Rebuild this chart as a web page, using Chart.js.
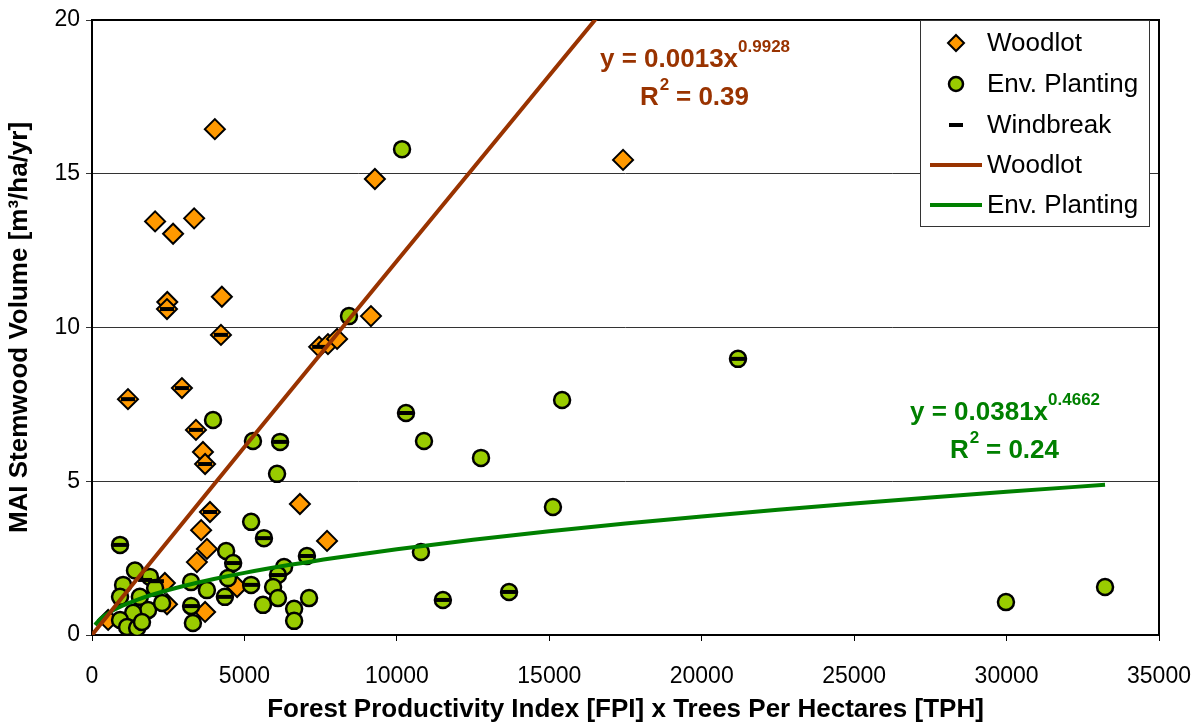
<!DOCTYPE html>
<html>
<head>
<meta charset="utf-8">
<script src="https://cdn.jsdelivr.net/npm/chart.js@4/dist/chart.umd.min.js"></script>
<style>
    html, body { margin: 0; padding: 0; background: #fff; }
    #wrap { width: 1193px; height: 727px; }
</style>
</head>
<body>
<div id="wrap"><canvas id="chart" width="1193" height="727"></canvas></div>
<script>
// Woodlot points
const woodlotX = [4030, 2070, 3350, 2660, 2470, 2460, 4260, 4230, 1180, 2950, 3410, 3640, 3710, 3870,
    7450, 7740, 8040, 9150, 9280, 17420, 6820, 7710, 3580, 3770, 3440, 2460, 3710, 2390, 4760, 530, 1410];
const woodlotY = [16.45, 13.45, 13.55, 13.05, 10.83, 10.6, 11.0, 9.76, 7.67, 8.03, 6.67, 5.95, 5.56, 4.0,
    9.37, 9.46, 9.63, 10.37, 14.83, 15.45, 4.26, 3.06, 3.41, 2.80, 2.37, 1.0, 0.75, 1.69, 1.56, 0.49, 0.2];

// Env. Planting points
const envX = [10170, 21190, 15420, 10300, 10890, 12760, 15120, 10790, 11510, 13680, 29980, 33230,
    3970, 5280, 6170, 6070, 8430, 7050, 6300, 6100, 5940, 6100, 7120, 6630, 6630, 5640,
    920, 5220, 4400, 4630, 3250, 3770, 4460, 5220, 4360, 3250, 3310, 5610,
    1410, 1020, 1900, 2070, 920, 1570, 1840, 1350, 920, 1150, 1480, 1640, 2300];
const envY = [15.8, 8.98, 7.64, 7.22, 6.31, 5.76, 4.16, 2.70, 1.14, 1.40, 1.07, 1.56,
    6.99, 6.31, 6.28, 5.24, 10.37, 2.57, 2.21, 1.95, 1.56, 1.2, 1.20, 0.85, 0.46, 3.15,
    2.93, 3.68, 2.73, 2.34, 1.72, 1.46, 1.85, 1.63, 1.24, 0.94, 0.39, 0.98,
    2.10, 1.63, 1.89, 1.53, 1.24, 1.24, 0.81, 0.72, 0.49, 0.26, 0.23, 0.42, 1.04];

// Windbreak points
const windX = [1180, 2950, 3410, 3710, 3870, 4230, 2460, 7450,
    21190, 10300, 11510, 13680, 6170, 920, 5640, 4630, 5220, 4360, 3250, 6100, 7050, 1740, 2130];
const windY = [7.67, 8.03, 6.67, 5.56, 4.0, 9.76, 10.6, 9.37,
    8.98, 7.22, 1.14, 1.40, 6.28, 2.93, 3.15, 2.34, 1.63, 1.24, 0.94, 1.95, 2.57, 1.79, 1.75];

// power trendlines y = a * x^b (coefficients as printed on the chart)
const woodlotFit = { a: 0.0013, b: 0.9928, r2: '0.39' };
const envFit = { a: 0.0381, b: 0.4662, r2: '0.24' };
const woodlotFitX = [0, 1000, 5000, 10000, 15000, 17000];
const envFitX = [100, 300, 600, 1000, 1500, 2000, 3000, 4000, 5000, 6500, 8000, 10000, 12500,
    15000, 17500, 20000, 22500, 25000, 27500, 30000, 33230];

const xTicks = [0, 5000, 10000, 15000, 20000, 25000, 30000, 35000];
const yTicks = [0, 5, 10, 15, 20];

const FONT = "'Liberation Sans', Arial, sans-serif";

function toPoints(xs, ys) {
    return xs.map((x, i) => ({ x: x, y: ys[i] }));
}

function fitPoints(xs, fit) {
    return xs.map(x => ({ x: x, y: fit.a * Math.pow(x, fit.b) }));
}

// equation text with superscripts
function drawEquation(ctx, x, y, fit, color) {
    ctx.save();
    ctx.fillStyle = color;
    ctx.textBaseline = 'alphabetic';
    ctx.textAlign = 'left';
    ctx.font = `bold 26px ${FONT}`;
    const main = `y = ${fit.a.toFixed(4)}x`;
    ctx.fillText(main, x, y);
    const w = ctx.measureText(main).width;
    ctx.font = `bold 17px ${FONT}`;
    ctx.fillText(fit.b.toFixed(4), x + w, y - 15);

    // R² line
    ctx.font = `bold 26px ${FONT}`;
    const rx = x + 40;
    ctx.fillText('R', rx, y + 38);
    const rw = ctx.measureText('R').width;
    ctx.font = `bold 17px ${FONT}`;
    ctx.fillText('2', rx + rw + 1, y + 23);
    ctx.font = `bold 26px ${FONT}`;
    ctx.fillText(` = ${fit.r2}`, rx + rw + 10, y + 38);
    ctx.restore();
}

const decorPlugin = {
    id: 'decor',
    beforeDatasetsDraw(chart) {
        const { ctx, chartArea: a } = chart;
        ctx.save();
        ctx.strokeStyle = '#000';
        ctx.lineWidth = 2;
        ctx.strokeRect(a.left, a.top, a.right - a.left, a.bottom - a.top);
        ctx.restore();
    },
    afterDraw(chart) {
        const ctx = chart.ctx;
        drawEquation(ctx, 600, 67, woodlotFit, '#993300');
        drawEquation(ctx, 910, 420, envFit, '#008000');

        // legend box
        ctx.save();
        ctx.fillStyle = '#fff';
        ctx.strokeStyle = '#333';
        ctx.lineWidth = 1;
        ctx.fillRect(920, 20, 229, 206);
        ctx.strokeRect(920.5, 20.5, 229, 206);

        const rows = [43, 84, 125, 165, 205];
        const labels = ['Woodlot', 'Env. Planting', 'Windbreak', 'Woodlot', 'Env. Planting'];
        ctx.font = `26px ${FONT}`;
        ctx.fillStyle = '#000';
        ctx.textBaseline = 'middle';
        labels.forEach((t, i) => ctx.fillText(t, 987, rows[i] + 1));

        // diamond
        ctx.beginPath();
        ctx.moveTo(956, rows[0] - 8); ctx.lineTo(964, rows[0]); ctx.lineTo(956, rows[0] + 8); ctx.lineTo(948, rows[0]);
        ctx.closePath();
        ctx.fillStyle = '#FF9900'; ctx.fill();
        ctx.lineWidth = 2; ctx.strokeStyle = '#000'; ctx.stroke();
        // circle
        ctx.beginPath();
        ctx.arc(956, rows[1], 7, 0, Math.PI * 2);
        ctx.fillStyle = '#99CC00'; ctx.fill();
        ctx.lineWidth = 2.5; ctx.stroke();
        // dash
        ctx.fillStyle = '#000';
        ctx.fillRect(949, rows[2] - 2, 14, 4);
        // lines
        ctx.lineWidth = 4;
        ctx.strokeStyle = '#993300';
        ctx.beginPath(); ctx.moveTo(930, rows[3]); ctx.lineTo(982, rows[3]); ctx.stroke();
        ctx.strokeStyle = '#008000';
        ctx.beginPath(); ctx.moveTo(930, rows[4]); ctx.lineTo(982, rows[4]); ctx.stroke();
        ctx.restore();
    }
};

new Chart(document.getElementById('chart'), {
    type: 'scatter',
    data: {
        datasets: [
            {
                label: 'Woodlot',
                data: toPoints(woodlotX, woodlotY),
                pointStyle: 'rectRot',
                pointRadius: 10,
                backgroundColor: '#FF9900',
                borderColor: '#000',
                borderWidth: 2,
                order: 4
            },
            {
                label: 'Env. Planting',
                data: toPoints(envX, envY),
                pointStyle: 'circle',
                pointRadius: 8,
                backgroundColor: '#99CC00',
                borderColor: '#000',
                borderWidth: 2.5,
                order: 3
            },
            {
                label: 'Windbreak',
                data: toPoints(windX, windY),
                pointStyle: 'line',
                pointRadius: 7,
                borderColor: '#000',
                borderWidth: 4,
                order: 2
            },
            {
                label: 'Woodlot',
                data: fitPoints(woodlotFitX, woodlotFit),
                showLine: true,
                pointRadius: 0,
                borderColor: '#993300',
                borderWidth: 4,
                order: 1
            },
            {
                label: 'Env. Planting',
                data: fitPoints(envFitX, envFit),
                showLine: true,
                pointRadius: 0,
                borderColor: '#008000',
                borderWidth: 4,
                cubicInterpolationMode: 'monotone',
                order: 1
            }
        ]
    },
    options: {
        responsive: false,
        animation: false,
        layout: { padding: { top: 20, right: 34, left: 0, bottom: 0 } },
        plugins: {
            legend: { display: false },
            tooltip: { enabled: false }
        },
        scales: {
            x: {
                type: 'linear',
                min: 0,
                max: 35000,
                afterBuildTicks: s => { s.ticks = xTicks.map(v => ({ value: v })); },
                afterFit: s => { s.height = 92; s.paddingLeft = 0; s.paddingRight = 0; },
                grid: { drawOnChartArea: false, drawTicks: true, tickLength: 6, color: '#000' },
                border: { display: false },
                ticks: {
                    color: '#000',
                    font: { family: FONT, size: 23 },
                    padding: 22,
                    maxRotation: 0,
                    callback: v => String(v)
                },
                title: {
                    display: true,
                    text: 'Forest Productivity Index [FPI] x Trees Per Hectares [TPH]',
                    color: '#000',
                    font: { family: FONT, size: 26, weight: 'bold' },
                    padding: { top: 0, bottom: 2 }
                }
            },
            y: {
                type: 'linear',
                min: 0,
                max: 20,
                afterBuildTicks: s => { s.ticks = yTicks.map(v => ({ value: v })); },
                afterFit: s => { s.width = 92; },
                grid: { color: '#333', lineWidth: 1, tickLength: 6 },
                border: { display: false },
                ticks: {
                    color: '#000',
                    font: { family: FONT, size: 23 },
                    padding: 6
                },
                title: {
                    display: true,
                    text: 'MAI Stemwood Volume [m³/ha/yr]',
                    color: '#000',
                    font: { family: FONT, size: 26, weight: 'bold' },
                    padding: { top: 4, bottom: 0 }
                }
            }
        }
    },
    plugins: [decorPlugin]
});
</script>
</body>
</html>
